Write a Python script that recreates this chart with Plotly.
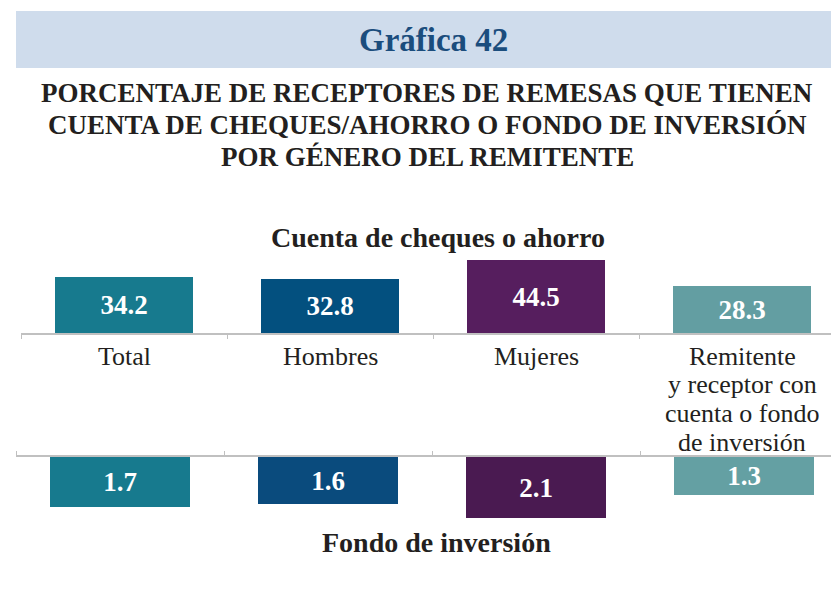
import plotly.graph_objects as go

# Data
categories = ["Total", "Hombres", "Mujeres",
              "Remitente<br>y receptor con<br>cuenta o fondo<br>de inversión"]
cuenta_cheques_ahorro = [34.2, 32.8, 44.5, 28.3]
fondo_inversion = [1.7, 1.6, 2.1, 1.3]

titulo = "Gráfica 42"
subtitulo = ["PORCENTAJE DE RECEPTORES DE REMESAS QUE TIENEN",
             "CUENTA DE CHEQUES/AHORRO O FONDO DE INVERSIÓN",
             "POR GÉNERO DEL REMITENTE"]
panel_superior = "Cuenta de cheques o ahorro"
panel_inferior = "Fondo de inversión"

# Styling
W, H = 831, 592
SERIF = "Liberation Serif"
DARK = "#231f20"
GRID = "#c0c0c0"
colores_sup = ["#177a8e", "#03507f", "#561e5e", "#639ea2"]
colores_inf = ["#177a8e", "#0a4b7d", "#4a1a51", "#64a0a3"]
CAT_SIZE = 26
CAT_STEP = 28.8


def px(x):
    return x / W


def py(y):
    return 1 - y / H


xpos = list(range(len(categories)))

fig = go.Figure()

bar_common = dict(
    texttemplate="%{y:.1f}",
    textposition="inside",
    insidetextanchor="middle",
    constraintext="none",
    textangle=0,
    textfont=dict(family=SERIF, size=27, color="white", weight="bold"),
    hoverinfo="skip",
    marker_line_width=0,
)

fig.add_trace(go.Bar(x=xpos, y=cuenta_cheques_ahorro, xaxis="x", yaxis="y",
                     width=0.67, marker_color=colores_sup, **bar_common))
fig.add_trace(go.Bar(x=xpos, y=fondo_inversion, xaxis="x2", yaxis="y2",
                     width=0.67, marker_color=colores_inf, **bar_common))

boundaries = [i - 0.5 for i in xpos]
axis_common = dict(
    showline=True, linecolor=GRID, linewidth=1.5,
    tickmode="array", tickvals=boundaries, ticks="outside",
    ticklen=4, tickwidth=1, tickcolor=GRID,
    showticklabels=False, showgrid=False, zeroline=False, fixedrange=True,
)

fig.update_layout(
    width=W, height=H,
    margin=dict(l=0, r=0, t=0, b=0),
    paper_bgcolor="white", plot_bgcolor="white",
    showlegend=False,
    bargap=0,
    xaxis=dict(domain=[px(21), 1], range=[-0.5, 3.432], anchor="y", **axis_common),
    yaxis=dict(domain=[py(333), py(251.3)], range=[0, 50], visible=False,
               fixedrange=True),
    xaxis2=dict(domain=[px(16), 1], range=[-0.5, 3.418], anchor="y2", side="top",
                **axis_common),
    yaxis2=dict(domain=[py(530), py(457)], range=[2.5, 0], visible=False,
                fixedrange=True),
)

# Title banner
fig.add_shape(type="rect", xref="paper", yref="paper",
              x0=px(16), x1=1, y0=py(68), y1=py(11),
              fillcolor="#cfdcec", line_width=0, layer="below")

annotations = [
    dict(text=titulo, x=px(433), y=py(40),
         font=dict(family=SERIF, size=33, color="#1b4d7d", weight="bold")),
]
for k, line in enumerate(subtitulo):
    annotations.append(dict(text=line, x=px(427), y=py(93 + 32 * k),
                            font=dict(family=SERIF, size=27, color=DARK, weight="bold")))

annotations.append(dict(text=panel_superior, x=px(438), y=py(238),
                        font=dict(family=SERIF, size=28, color=DARK, weight="bold")))
annotations.append(dict(text=panel_inferior, x=px(437), y=py(542),
                        font=dict(family=SERIF, size=28, color=DARK, weight="bold")))

for a in annotations:
    a.update(xref="paper", yref="paper", xanchor="center", yanchor="middle",
             showarrow=False)

# Category labels between the two panels, one annotation per text line
for i, cat in enumerate(categories):
    for k, line in enumerate(cat.split("<br>")):
        annotations.append(dict(
            text=line, x=xpos[i], xref="x", y=py(356 + CAT_STEP * k), yref="paper",
            xanchor="center", yanchor="middle", showarrow=False,
            font=dict(family=SERIF, size=CAT_SIZE, color=DARK)))

fig.update_layout(annotations=annotations)

fig.write_html("out.html")
